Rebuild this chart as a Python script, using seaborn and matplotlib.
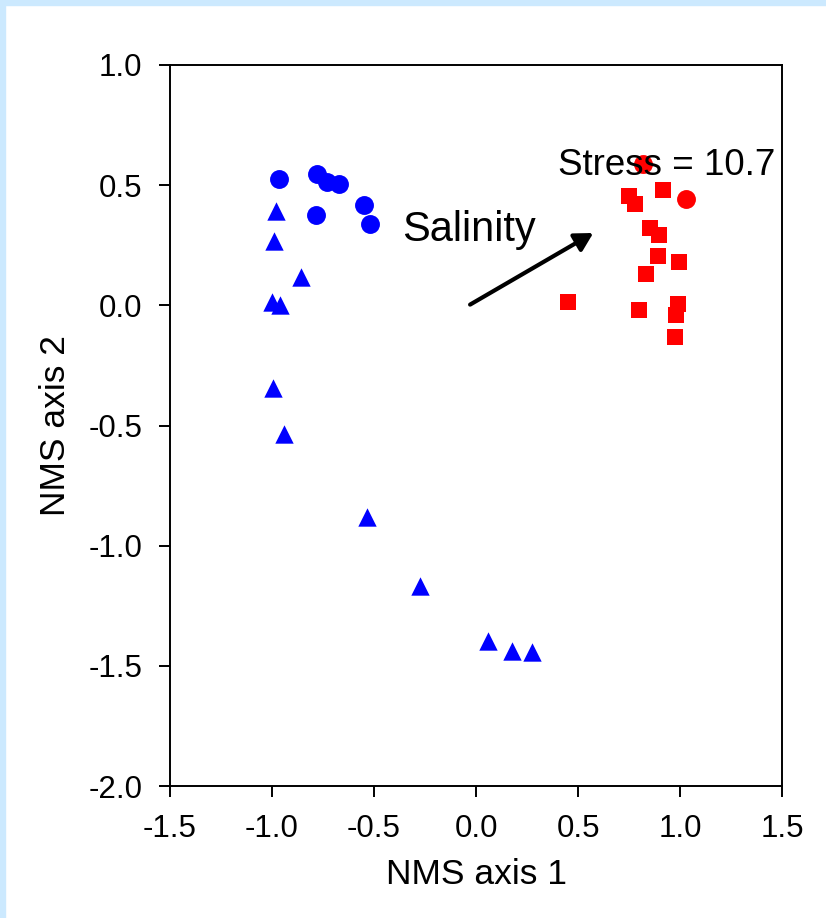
import matplotlib
matplotlib.use("Agg")
import matplotlib.pyplot as plt
from matplotlib.patches import Rectangle
import seaborn as sns
import pandas as pd

# ---- data ----
blue_circle_x = [-0.964, -0.778, -0.732, -0.670, -0.548, -0.784, -0.520]
blue_circle_y = [0.525, 0.546, 0.513, 0.503, 0.417, 0.377, 0.337]

blue_tri_x = [-0.982, -0.989, -0.859, -1.000, -0.961, -0.995, -0.941, -0.534, -0.276, 0.057, 0.178, 0.275]
blue_tri_y = [0.391, 0.268, 0.119, 0.014, 0.000, -0.342, -0.537, -0.882, -1.167, -1.398, -1.437, -1.444]

red_circle_x = [0.819, 1.028]
red_circle_y = [0.589, 0.443]

red_sq_x = [0.751, 0.779, 0.915, 0.853, 0.897, 0.894, 0.997, 0.833, 0.452, 0.799, 0.992, 0.979, 0.975]
red_sq_y = [0.453, 0.421, 0.478, 0.321, 0.294, 0.204, 0.180, 0.130, 0.012, -0.018, 0.007, -0.042, -0.133]

arrow_tail = (-0.029, 0.003)
arrow_head = (0.575, 0.301)

x_ticks = [-1.5, -1.0, -0.5, 0.0, 0.5, 1.0, 1.5]
y_ticks = [-2.0, -1.5, -1.0, -0.5, 0.0, 0.5, 1.0]

sns.set_theme(style="white")
plt.rcParams['font.family'] = ['Liberation Sans', 'DejaVu Sans']

fig = plt.figure(figsize=(8.26, 9.18), dpi=100)
fig.patch.set_facecolor("white")
border = "#CCE9FE"
fig.patches.append(Rectangle((0, 0), 5 / 826, 1, transform=fig.transFigure, color=border, zorder=0))
fig.patches.append(Rectangle((0, 1 - 5 / 918), 1, 5 / 918, transform=fig.transFigure, color=border, zorder=0))

ax = fig.add_axes([170 / 826, 1 - 786 / 918, 612 / 826, 721 / 918])

sns.scatterplot(x=blue_tri_x, y=blue_tri_y, marker="^", s=175, color="#0000FF", linewidth=0, ax=ax, zorder=3)
sns.scatterplot(x=blue_circle_x, y=blue_circle_y, marker="o", s=185, color="#0000FF", linewidth=0, ax=ax, zorder=3)
sns.scatterplot(x=red_sq_x, y=red_sq_y, marker="s", s=130, color="#FF0000", linewidth=0, ax=ax, zorder=3)
sns.scatterplot(x=red_circle_x, y=red_circle_y, marker="o", s=185, color="#FF0000", linewidth=0, ax=ax, zorder=3)

ax.annotate("", xy=arrow_head, xytext=arrow_tail,
            arrowprops=dict(arrowstyle="-|>,head_length=0.9,head_width=0.5", color="black", lw=3,
                            shrinkA=0, shrinkB=0), zorder=4)
ax.text(-0.363, 0.315, "Salinity", fontsize=30, ha="left", va="center", color="black", zorder=5)
ax.text(1.466, 0.580, "Stress = 10.7", fontsize=26.5, ha="right", va="center", color="black", zorder=5)

ax.set_xlim(-1.5, 1.5)
ax.set_ylim(-2.0, 1.0)
ax.set_xticks(x_ticks)
ax.set_yticks(y_ticks)
ax.set_xticklabels([f"{v:.1f}" for v in x_ticks])
ax.set_yticklabels([f"{v:.1f}" for v in y_ticks])
ax.tick_params(axis="both", direction="out", length=8, width=1.4, labelsize=22.5,
               colors="black", bottom=True, left=True, top=False, right=False, pad=12)
for sp in ax.spines.values():
    sp.set_visible(True)
    sp.set_color("black")
    sp.set_linewidth(1.4)
ax.set_facecolor("white")
ax.grid(False)

ax.set_xlabel("NMS axis 1", fontsize=25.5, color="black", labelpad=10)
ax.set_ylabel("NMS axis 2", fontsize=25.5, color="black", labelpad=12)

fig.savefig("out.png", dpi=100, facecolor=fig.get_facecolor())
